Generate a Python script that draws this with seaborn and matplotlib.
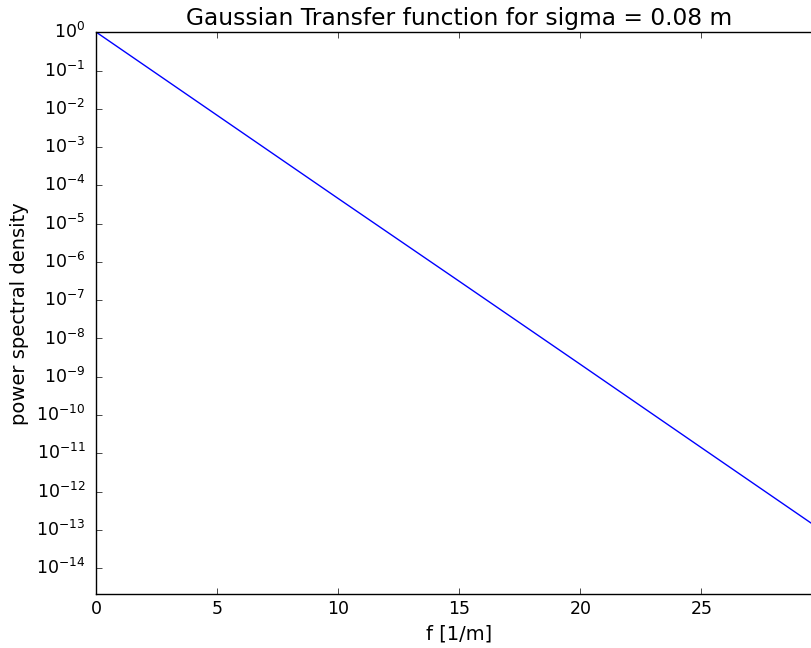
import matplotlib
matplotlib.use("Agg")
import matplotlib.pyplot as plt
import pandas as pd
import seaborn as sns

# values
freq = [0, 5, 10, 15, 20, 25, 30]
psd = [1.0, 6.7e-3, 4.5e-5, 3.1e-7, 2.1e-9, 1.4e-11, 9.4e-14]
xticks = [0, 5, 10, 15, 20, 25]
ytick_exps = list(range(0, -15, -1))

df = pd.DataFrame({"f": freq, "psd": psd})

plt.style.use("classic")
plt.rcParams["mathtext.fontset"] = "dejavusans"
plt.rcParams["axes.unicode_minus"] = False
plt.rcParams["figure.facecolor"] = "white"
plt.rcParams["savefig.facecolor"] = "white"

fig = plt.figure(figsize=(8.12, 6.48), dpi=100)
ax = fig.add_axes([0.1188, 0.0833, 0.894, 0.8668])
sns.lineplot(data=df, x="f", y="psd", color="blue", linewidth=1.0, ax=ax)
ax.set(yscale="log")
ax.set_xlim(0, 30)
ax.set_ylim(2.1e-15, 1.0)
ax.set_xticks(xticks)
ax.set_yticks([10.0 ** e for e in ytick_exps])
ax.minorticks_off()
ax.tick_params(labelsize=12.5)
ax.tick_params(axis="y", pad=8)
ax.set_xlabel("f [1/m]", fontsize=14)
ax.set_ylabel("power spectral density", fontsize=14)
ax.set_title("Gaussian Transfer function for sigma = 0.08 m", fontsize=16.8)
fig.savefig("out.png", dpi=100)
